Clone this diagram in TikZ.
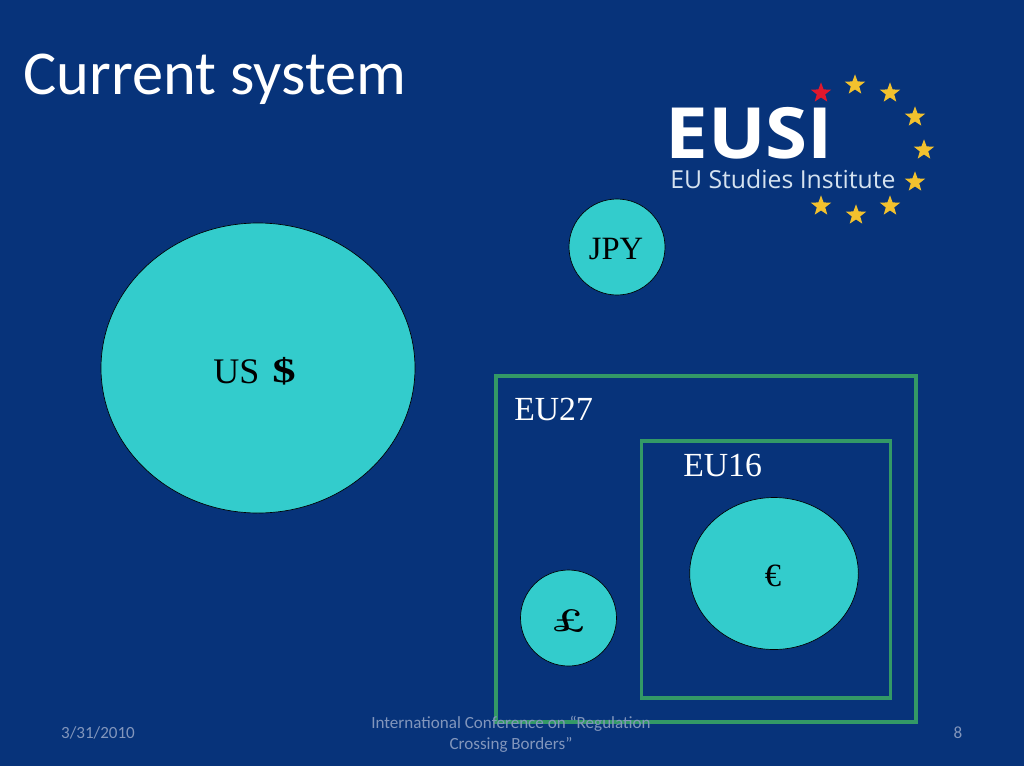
\documentclass[tikz,border=0pt]{standalone}
\usepackage{fontspec}
\setmainfont{Liberation Serif}
\newfontfamily\calibrifont{Carlito}
\newfontfamily\logofont{Open Sans}
\newfontfamily\lmfont{Latin Modern Roman}
\usetikzlibrary{shapes.geometric}
\definecolor{slidebg}{HTML}{07337A}
\definecolor{disc}{HTML}{33CCCC}
\definecolor{framegreen}{HTML}{339966}
\definecolor{foot}{HTML}{8296BC}
\definecolor{starY}{HTML}{F2C12E}
\definecolor{starR}{HTML}{E0182D}
\definecolor{logotxt}{HTML}{D5E2F0}
\tikzset{
  discnode/.style={ellipse,draw=black,line width=0.5pt,fill=disc,inner sep=0pt,text=black,font=\fontsize{24}{28}\selectfont},
  framebox/.style={rectangle,draw=framegreen,inner sep=0pt},
  framelabel/.style={text=white,inner sep=0pt,font=\fontsize{25.3}{30}\selectfont},
  footer/.style={text=foot,inner sep=0pt,align=center,font=\calibrifont\fontsize{12.8}{15.5}\selectfont},
  estar/.style={star,star points=5,star point ratio=2.4,fill=starY,draw=none,minimum size=16pt,inner sep=0pt},
}
\begin{document}
\begin{tikzpicture}[x=0.75pt,y=-0.75pt]
\useasboundingbox (0,0) rectangle (1024,768);
\fill[slidebg] (0,0) rectangle (1024,768);
\fill[white] (0,766) rectangle (1024,768);
\node[anchor=base west,text=white,inner sep=0pt,font=\calibrifont\fontsize{46.8}{54}\selectfont] (title) at (23,94.5) {Current system};
% logo
\node[anchor=base west,text=white,inner sep=0pt,font=\logofont\bfseries\fontsize{53}{60}\selectfont] (eusi) at (665,158) {\scalebox{1.08}[1]{EUSI}};
\node[anchor=base west,text=logotxt,inner sep=0pt,font=\logofont\fontsize{18.6}{22}\selectfont] (eusisub) at (670,188) {EU Studies Institute};
\node[estar,fill=starR] (s0) at (821,93) {};
\node[estar] (s1) at (855,85) {};
\node[estar] (s2) at (890,93) {};
\node[estar] (s3) at (915,117) {};
\node[estar] (s4) at (924,150) {};
\node[estar] (s5) at (915,182) {};
\node[estar] (s6) at (890,206) {};
\node[estar] (s7) at (856,215) {};
\node[estar] (s8) at (821,206) {};
% frames
\node[framebox,line width=2.3pt,minimum width=315pt,minimum height=259.5pt] (eu27) at (706,549) {};
\node[framebox,line width=2.6pt,minimum width=187pt,minimum height=193pt] (eu16) at (766,569.5) {};
\node[framelabel,anchor=base west] (eu27l) at (514,420) {EU27};
\node[framelabel,anchor=base west] (eu16l) at (683,476) {EU16};
% discs
\node[discnode,minimum width=235.5pt,minimum height=217.5pt] (usd) at (258,368) {};
\node[anchor=base west,inner sep=0pt,text=black,font=\fontsize{27}{30}\selectfont] (usdl) at (213,383) {US};
\node[anchor=base west,inner sep=0pt,text=black,font=\bfseries\fontsize{26}{30}\selectfont] (usds) at (272,382) {\scalebox{1.35}[1]{\$}};
\node[discnode,minimum width=72pt,minimum height=72pt] (jpy) at (617,247) {};
\node[anchor=base,inner sep=0pt,text=black,font=\fontsize{24.4}{30}\selectfont] (jpyl) at (616,259) {JPY};
\node[discnode,minimum width=126.5pt,minimum height=114pt] (eur) at (774,573.5) {};
\node[anchor=base,inner sep=0pt,text=black,font=\fontsize{24.4}{30}\selectfont] (eurl) at (773,586) {€};
\node[discnode,minimum width=72pt,minimum height=72pt] (gbp) at (568.5,618) {};
\node[anchor=base,inner sep=0pt,text=black,font=\lmfont\bfseries\fontsize{24}{30}\selectfont] (gbpl) at (568.5,631) {\scalebox{1.25}[1]{£}};
% footer
\node[footer,anchor=base] (fd) at (98,738) {3/31/2010};
\node[footer,anchor=base] (fc1) at (511,728) {International Conference on “Regulation};
\node[footer,anchor=base] (fc2) at (511,749) {Crossing Borders”};
\node[footer,anchor=base] (fn) at (958,738) {8};
\end{tikzpicture}
\end{document}
